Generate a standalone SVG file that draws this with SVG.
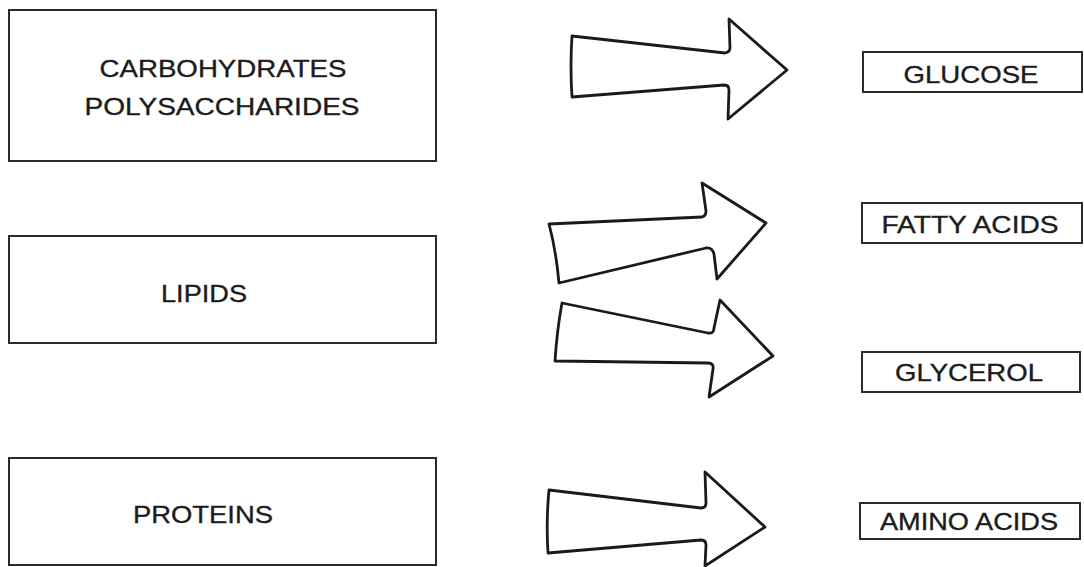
<svg xmlns="http://www.w3.org/2000/svg" width="1084" height="567" viewBox="0 0 1084 567">
<style>
.bg{fill:#ffffff}
.box{fill:none;stroke:#2a2a2a;stroke-width:2}
.lbl{font-family:"Liberation Sans",Arial,Helvetica,sans-serif;font-size:24px;fill:#1c1c1c;stroke:#1c1c1c;stroke-width:0.35;text-anchor:middle}
.arr{fill:none;stroke:#1a1a1a;stroke-width:2.8;stroke-linejoin:round;stroke-linecap:round}
</style>
<rect class="bg" x="0" y="0" width="1084" height="567"/>
<g id="carbohydrates">
<rect class="box" x="9" y="10" width="427" height="151"/>
<text class="lbl" x="223" y="77" textLength="247" lengthAdjust="spacingAndGlyphs">CARBOHYDRATES</text>
<text class="lbl" x="222" y="115" textLength="275" lengthAdjust="spacingAndGlyphs">POLYSACCHARIDES</text>
</g>
<g id="lipids">
<rect class="box" x="9" y="236" width="427" height="107"/>
<text class="lbl" x="204" y="302" textLength="86" lengthAdjust="spacingAndGlyphs">LIPIDS</text>
</g>
<g id="proteins">
<rect class="box" x="9" y="458" width="427" height="107"/>
<text class="lbl" x="203" y="523" textLength="140" lengthAdjust="spacingAndGlyphs">PROTEINS</text>
</g>
<g id="glucose">
<rect class="box" x="863" y="52" width="219" height="40"/>
<text class="lbl" x="971" y="83" textLength="135" lengthAdjust="spacingAndGlyphs">GLUCOSE</text>
</g>
<g id="fatty-acids">
<rect class="box" x="862" y="203" width="220" height="40"/>
<text class="lbl" x="970" y="233" textLength="177" lengthAdjust="spacingAndGlyphs">FATTY ACIDS</text>
</g>
<g id="glycerol">
<rect class="box" x="862" y="352" width="218" height="40"/>
<text class="lbl" x="969" y="381" textLength="148" lengthAdjust="spacingAndGlyphs">GLYCEROL</text>
</g>
<g id="amino-acids">
<rect class="box" x="860" y="503" width="220" height="36"/>
<text class="lbl" x="969" y="530" textLength="178" lengthAdjust="spacingAndGlyphs">AMINO ACIDS</text>
</g>
<g id="connectors">
<path class="arr" d="M572,36 L725,53 Q730,52 730,48 L729,19 L787,70 L728,119 L729,90 Q729,85 724,85 L572,97 Q570,66 572,36 Z"/>
<path class="arr" d="M549,224 L702,217 Q706,216 706,211 L702,183 L766,223 L717,279 L714,254 Q712,247 706,248 L559,283 Q556,250 549,224 Z"/>
<path class="arr" d="M562,303 L708,333 Q714,334 714,328 L720,300 L773,356 L709,397 L713,369 Q714,363 708,363 L555,361 Q557,330 562,303 Z"/>
<path class="arr" d="M549,490 L701,508 Q706,508 706,503 L705,472 L765,527 L705,566 L706,545 Q706,540 701,540 L548,553 Q546,522 549,490 Z"/>
</g>
</svg>
